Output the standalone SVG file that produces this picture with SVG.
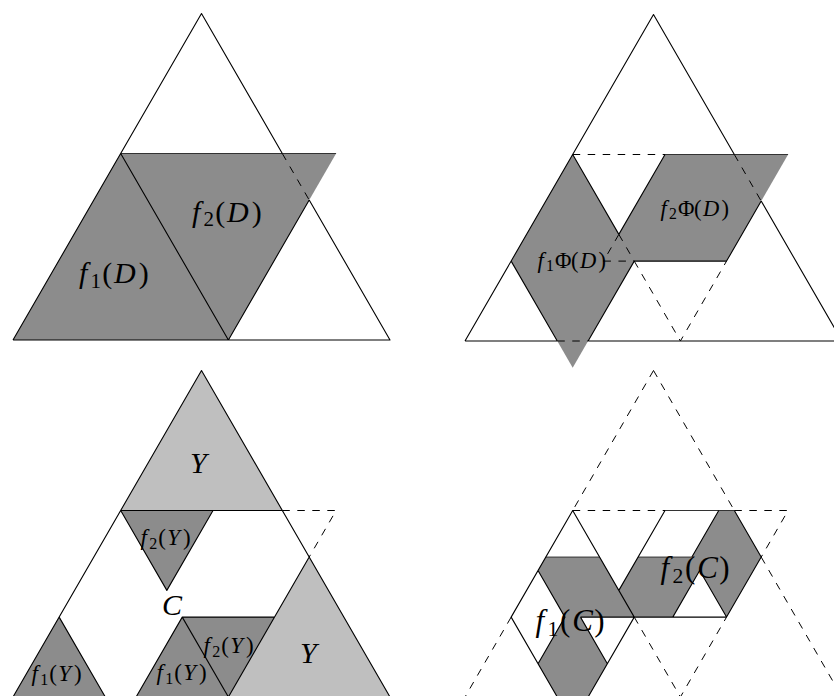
<svg xmlns="http://www.w3.org/2000/svg" width="834" height="696" viewBox="0 0 834 696">
<style>
.s{stroke:#000;stroke-width:1.1;fill:none;stroke-linejoin:round}
.e{stroke:#333;stroke-width:1;fill:none}
.d{stroke:#000;stroke-width:1;fill:none;stroke-dasharray:7.5 7.5}
.g{fill:#8c8c8c}
.lg{fill:#bfbfbf}
text{font-family:"Liberation Serif","DejaVu Serif",serif;fill:#000}
.i{font-style:italic}
</style>
<rect width="834" height="696" fill="#fff"/>

<g id="panel-top-left">
  <polygon class="g" points="13,340 120.7,153.5 336.1,153.5 228.4,340"/>
  <path class="e" d="M120.7,153.5 H336.1"/>
  <path class="s" d="M13,340 L201.5,13.5 L282.3,153.5 M309.2,200 L390,340 L13,340 M120.7,153.5 L228.4,340 L309.2,200"/>
  <path class="d" d="M282.3,153.5 L309.2,200"/>
  <text font-size="30"><tspan class="i" x="79" y="283">f</tspan><tspan x="90.5" y="287.5" font-size="21">1</tspan><tspan x="102.2" y="283">(</tspan><tspan class="i" x="113.9" y="283">D</tspan><tspan x="138.7" y="283">)</tspan></text>
  <text font-size="30"><tspan class="i" x="192" y="221.5">f</tspan><tspan x="203.5" y="226" font-size="21">2</tspan><tspan x="215.2" y="221.5">(</tspan><tspan class="i" x="226.9" y="221.5">D</tspan><tspan x="251.7" y="221.5">)</tspan></text>
</g>

<g id="panel-top-right">
  <polygon class="g" points="572.7,154.5 511.15,261.1 572.7,367.7 634.25,261.1"/>
  <polygon class="g" points="665,154.5 788.1,154.5 726.55,261.1 603.45,261.1"/>
  <path class="e" d="M665,154.5 H788.1"/>
  <path class="s" d="M465,341 L653.5,14.5 L734.33,154.5 M761.2,201.05 L842,341 L588.12,341 M557.28,341 L465,341 M572.7,154.5 L618.85,234.4 M511.15,261.1 L557.28,341 M634.25,261.1 L588.12,341 M665,154.5 L618.85,234.4 M634.25,261.1 H726.55 L761.2,201.05"/>
  <path class="d" d="M572.7,154.5 H665 M618.85,234.4 L603.45,261.1 M618.85,234.4 L634.25,261.1 M603.45,261.1 H634.25 M634.25,261.1 L680.4,341 L726.55,261.1 M734.33,154.5 L761.2,201.05 M557.28,341 H588.12"/>
  <text font-size="22.5"><tspan class="i" x="537.5" y="268">f</tspan><tspan x="546" y="271.4" font-size="15.75">1</tspan><tspan x="554.9" y="268">Φ</tspan><tspan x="571.1" y="268">(</tspan><tspan class="i" x="579.9" y="268">D</tspan><tspan x="598.5" y="268">)</tspan></text>
  <text font-size="22.5"><tspan class="i" x="660.5" y="216">f</tspan><tspan x="669" y="219.4" font-size="15.75">2</tspan><tspan x="677.9" y="216">Φ</tspan><tspan x="694.1" y="216">(</tspan><tspan class="i" x="702.9" y="216">D</tspan><tspan x="721.5" y="216">)</tspan></text>
</g>

<g id="panel-bottom-left">
  <polygon class="lg" points="201.5,370.5 120.7,510.5 282.3,510.5"/>
  <polygon class="lg" points="309.2,557 228.4,697 390,697"/>
  <polygon class="g" points="120.7,510.5 213,510.5 166.85,590.4"/>
  <polygon class="g" points="182.25,617.1 274.55,617.1 228.4,697"/>
  <polygon class="g" points="13,697 105.3,697 59.15,617.1"/>
  <polygon class="g" points="136.1,697 228.4,697 182.25,617.1"/>
  <path class="s" d="M13,697 L201.5,370.5 L390,697 M13,697 H390 M120.7,510.5 H282.3 M120.7,510.5 L166.85,590.4 L213,510.5 M59.15,617.1 L105.3,697 M136.1,697 L182.25,617.1 L228.4,697 M182.25,617.1 H274.55 M309.2,557 L228.4,697"/>
  <path class="d" d="M282.3,510.5 H336.1 L309.2,557"/>
  <text class="i" x="190" y="473" font-size="30">Y</text>
  <text class="i" x="300" y="663" font-size="30">Y</text>
  <text class="i" x="162" y="615" font-size="30">C</text>
  <text font-size="23"><tspan class="i" x="140.5" y="545">f</tspan><tspan x="149.3" y="548.5" font-size="16.1">2</tspan><tspan x="158.3" y="545">(</tspan><tspan class="i" x="167.3" y="545">Y</tspan><tspan x="183" y="545">)</tspan></text>
  <text font-size="23"><tspan class="i" x="203.5" y="653">f</tspan><tspan x="212.3" y="656.5" font-size="16.1">2</tspan><tspan x="221.3" y="653">(</tspan><tspan class="i" x="230.3" y="653">Y</tspan><tspan x="246" y="653">)</tspan></text>
  <text font-size="23"><tspan class="i" x="156.5" y="680">f</tspan><tspan x="165.3" y="683.5" font-size="16.1">1</tspan><tspan x="174.3" y="680">(</tspan><tspan class="i" x="183.3" y="680">Y</tspan><tspan x="199" y="680">)</tspan></text>
  <text font-size="23"><tspan class="i" x="31.5" y="681">f</tspan><tspan x="40.3" y="684.5" font-size="16.1">1</tspan><tspan x="49.3" y="681">(</tspan><tspan class="i" x="58.3" y="681">Y</tspan><tspan x="74" y="681">)</tspan></text>
</g>

<g id="panel-bottom-right">
  <polygon class="g" points="545.8,557.07 599.6,557.07 634.25,617.1 580.48,617.1 607.37,663.67 572.7,723.7 538.03,663.67 564.92,617.1 538.03,570.53"/>
  <polygon class="g" points="718.77,510.5 734.33,510.5 761.2,557.07 726.55,617.1 699.67,570.53 672.78,617.1 603.45,617.1 638.12,557.07 691.89,557.07"/>
  <path class="e" d="M545.8,557.07 H599.6 M638.12,557.07 H691.89 M665,510.5 H734.33"/>
  <path class="s" d="M572.7,510.5 L511.15,617.1 L572.7,723.7 L634.25,617.1 Z M538.03,570.53 L564.92,617.1 L538.03,663.67 M580.48,617.1 L607.37,663.67 M580.48,617.1 H726.55 M665,510.5 L618.85,590.4 M691.89,557.07 L718.77,510.5 M734.33,510.5 L761.2,557.07 L726.55,617.1 M672.78,617.1 L699.67,570.53 L726.55,617.1"/>
  <path class="d" d="M653.5,370.5 L572.7,510.5 M511.15,617.1 L465,697 M653.5,370.5 L734.33,510.5 M761.2,557.07 L842,697 M572.7,510.5 H665 M734.33,510.5 H788.1 L761.2,557.07 M634.25,617.1 L680.4,697 L726.55,617.1"/>
  <text font-size="31"><tspan class="i" x="535.5" y="631">f</tspan><tspan x="547.5" y="635.7" font-size="21.7">1</tspan><tspan x="560.1" y="631">(</tspan><tspan class="i" x="572.2" y="631">C</tspan><tspan x="594.3" y="631">)</tspan></text>
  <text font-size="31"><tspan class="i" x="660.5" y="578">f</tspan><tspan x="672.5" y="582.7" font-size="21.7">2</tspan><tspan x="685.1" y="578">(</tspan><tspan class="i" x="697.2" y="578">C</tspan><tspan x="719.3" y="578">)</tspan></text>
</g>
</svg>
